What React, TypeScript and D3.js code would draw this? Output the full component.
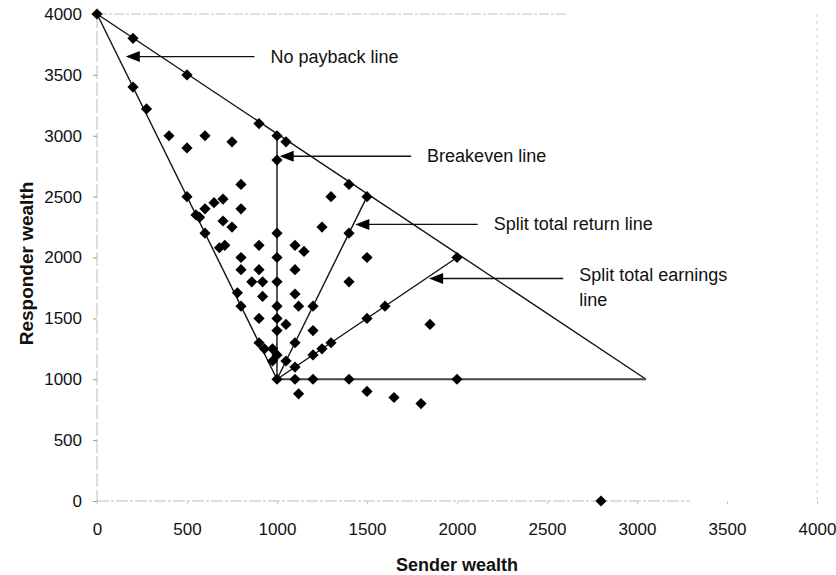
import React, { useEffect, useRef } from "react";
import * as d3 from "d3";

const senderWealth = [
  0, 200, 500, 200, 275, 900, 1000, 1050, 400, 600, 500, 750, 1000, 800, 1400, 500, 1300, 1500,
  650, 700, 600, 800, 550, 570, 700, 750, 1250, 600, 1000, 1400, 680, 710, 900, 1100, 1150,
  800, 1000, 1500, 2000, 800, 900, 1100, 860, 920, 1000, 1400, 780, 920, 1100, 800, 1000, 1120,
  1200, 1600, 900, 1000, 1050, 1500, 1850, 1000, 1200, 900, 1100, 1300, 930, 975, 1250, 1000,
  1200, 975, 1050, 1100, 1000, 1100, 1200, 1400, 2000, 1120, 1500, 1650, 1800, 2800,
];
const responderWealth = [
  4000, 3800, 3500, 3400, 3220, 3100, 3000, 2950, 3000, 3000, 2900, 2950, 2800, 2600, 2600, 2500, 2500, 2500,
  2450, 2480, 2400, 2400, 2350, 2330, 2300, 2250, 2250, 2200, 2200, 2200, 2080, 2100, 2100, 2100, 2050,
  2000, 2000, 2000, 2000, 1900, 1900, 1900, 1800, 1800, 1800, 1800, 1710, 1680, 1700, 1600, 1600, 1600,
  1600, 1600, 1500, 1500, 1450, 1500, 1450, 1400, 1400, 1300, 1300, 1300, 1250, 1250, 1250, 1200,
  1200, 1150, 1150, 1100, 1000, 1000, 1000, 1000, 1000, 880, 900, 850, 800, 0,
];

// reference lines: start and end points in data units
const lineNames = ["No payback line", "Upper bound", "Breakeven line", "Split total return line", "Split total earnings line", "Full return"];
const lineStart = [
  [0, 4000], [0, 4000], [1000, 1000], [1000, 1000], [1000, 1000], [1000, 1000],
];
const lineEnd = [
  [1000, 1000], [3050, 1000], [1000, 3000], [1500, 2500], [2000, 2000], [3050, 1000],
];

// annotations: label lines, arrow tip (data), arrow tail (data)
const annotLabels = [["No payback line"], ["Breakeven line"], ["Split total return line"], ["Split total earnings", "line"]];
const annotTip = [[160, 3650], [1015, 2832], [1435, 2272], [1845, 1827]];
const annotTail = [[875, 3650], [1745, 2832], [2115, 2272], [2590, 1827]];

const xTicks = [0, 500, 1000, 1500, 2000, 2500, 3000, 3500, 4000];
const yTicks = [0, 500, 1000, 1500, 2000, 2500, 3000, 3500, 4000];

const W = 836;
const H = 575;
const FONT = "'Liberation Sans', Arial, Helvetica, sans-serif";

export default function App() {
  const xAxisRef = useRef<SVGGElement>(null);
  const yAxisRef = useRef<SVGGElement>(null);

  const x = d3.scaleLinear().domain([0, 4000]).range([97, 817]);
  const y = d3.scaleLinear().domain([0, 4000]).range([501, 14]);

  useEffect(() => {
    const gx = d3.select(xAxisRef.current);
    gx.call(d3.axisBottom(x).tickValues(xTicks).tickSize(3).tickPadding(19).tickFormat(d3.format("d")));
    gx.select(".domain").remove();
    gx.selectAll(".tick line").attr("stroke", "#c8c8c8");
    gx.selectAll(".tick text").attr("font-size", 17).attr("font-family", FONT).attr("fill", "#111");

    const gy = d3.select(yAxisRef.current);
    gy.call(d3.axisLeft(y).tickValues(yTicks).tickSize(4).tickPadding(11).tickFormat(d3.format("d")));
    gy.select(".domain").remove();
    gy.selectAll(".tick line").attr("stroke", "#999");
    gy.selectAll(".tick text").attr("font-size", 17).attr("font-family", FONT).attr("fill", "#111");
  }, []);

  const diamond = "M0,-5.6L5.6,0L0,5.6L-5.6,0Z";

  return (
    <svg
      width={W}
      height={H}
      style={{ position: "absolute", left: 0, top: 0, background: "#fff" }}
      fontFamily={FONT}
    >
      <rect width={W} height={H} fill="#fff" />
      {/* faint frame */}
      <line x1={x(0)} x2={x(0)} y1={y(4000)} y2={y(0)} stroke="#bdbdbd" strokeWidth={1} strokeDasharray="14,3" />
      <line x1={x(0)} x2={567} y1={y(4000)} y2={y(4000)} stroke="#c4c4c4" strokeWidth={1} strokeDasharray="10,2,3,2" />
      <line x1={x(0)} x2={690} y1={y(0)} y2={y(0)} stroke="#bdbdbd" strokeWidth={1} strokeDasharray="12,2,3,2" />
      <line x1={x(4000)} x2={x(4000)} y1={y(4000)} y2={y(0)} stroke="#cfcfcf" strokeWidth={1} strokeDasharray="3,4" />

      <g ref={xAxisRef} transform={`translate(0,${y(0)})`} />
      <g ref={yAxisRef} transform={`translate(${x(0)},0)`} />

      {/* reference lines */}
      {lineStart.map((s, i) => (
        <line
          key={lineNames[i]}
          x1={x(s[0])}
          y1={y(s[1])}
          x2={x(lineEnd[i][0])}
          y2={y(lineEnd[i][1])}
          stroke={i === 5 ? "#444" : "#111"}
          strokeWidth={i === 5 ? 2 : 1.4}
        />
      ))}

      {/* data points */}
      {senderWealth.map((sv, i) => (
        <path key={i} d={diamond} transform={`translate(${x(sv)},${y(responderWealth[i])})`} fill="#000" />
      ))}

      {/* annotations */}
      {annotLabels.map((lab, i) => {
        const tx = x(annotTip[i][0]);
        const ty = y(annotTip[i][1]);
        const ex = x(annotTail[i][0]);
        return (
          <g key={i}>
            <line x1={tx + 10} y1={ty} x2={ex} y2={ty} stroke="#111" strokeWidth={1.4} />
            <path d={`M${tx},${ty}L${tx + 14},${ty - 5.5}L${tx + 14},${ty + 5.5}Z`} fill="#000" />
            {lab.map((t, j) => (
              <text key={j} x={ex + 16} y={ty + 6 - (lab.length > 1 ? 4 : 0) + j * 25} fontSize={18} fill="#111">
                {t}
              </text>
            ))}
          </g>
        );
      })}

      {/* axis titles */}
      <text x={x(2000)} y={571} textAnchor="middle" fontSize={18} fontWeight="bold" fill="#111">
        Sender wealth
      </text>
      <text transform={`translate(33,${y(2000) + 6}) rotate(-90)`} textAnchor="middle" fontSize={19} fontWeight="bold" fill="#111">
        Responder wealth
      </text>
    </svg>
  );
}
